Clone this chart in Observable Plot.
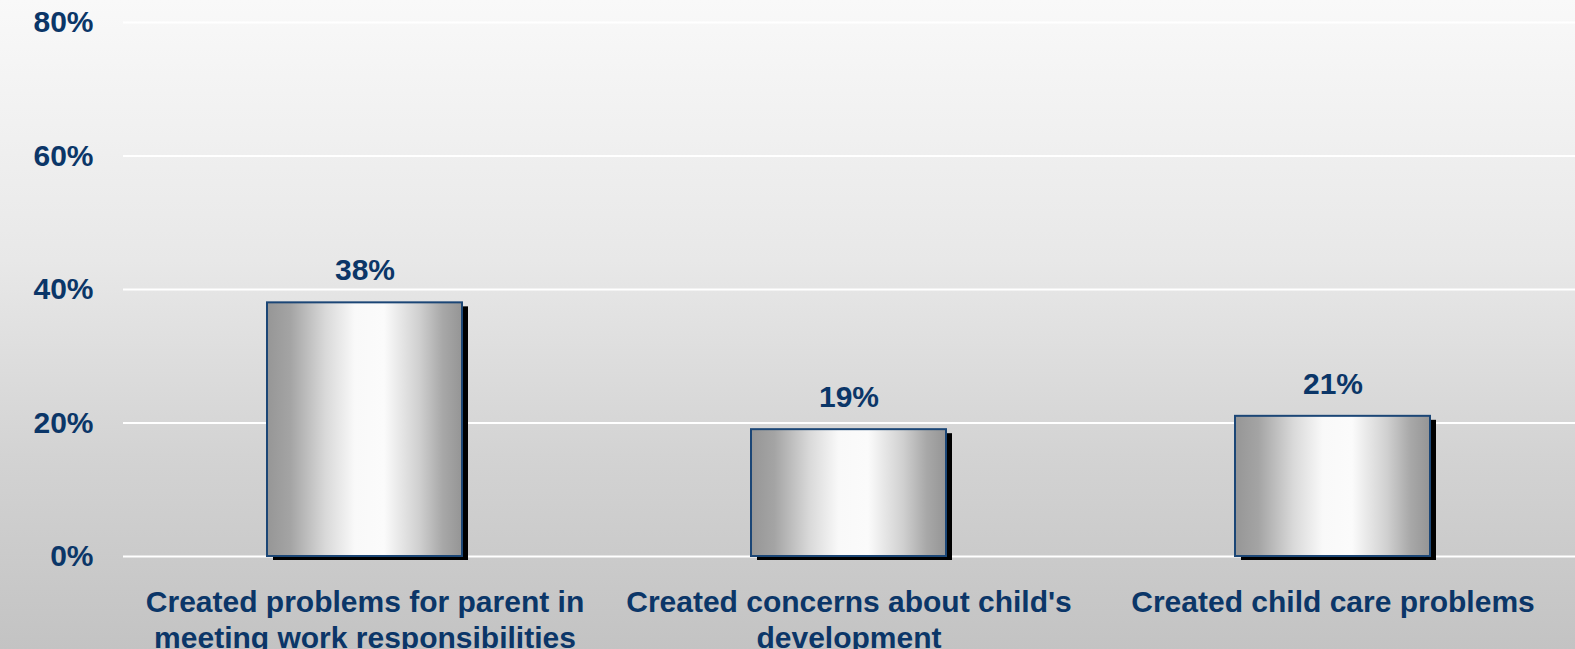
<!DOCTYPE html>
<html>
<head>
<meta charset="utf-8">
<script src="https://cdn.jsdelivr.net/npm/d3@7"></script>
<script src="https://cdn.jsdelivr.net/npm/@observablehq/plot@0.6"></script>
<style>
  html, body { margin: 0; padding: 0; background: #c4c4c4; }
  #chart svg { display: block; }
</style>
</head>
<body>
<div id="chart"></div>
<script>
const categories = [
  "Created problems for parent in\nmeeting work responsibilities",
  "Created concerns about child's\ndevelopment",
  "Created child care problems"
];
const values = [38, 19, 21];
const yTicks = [0, 20, 40, 60, 80];

const data = categories.map((c, i) => ({category: c, value: values[i]}));
const textColor = "#0b3668";
const font = "Liberation Sans, Arial, sans-serif";

const defs = () => {
  const g = d3.create("svg:defs");
  const lg = g.append("linearGradient").attr("id", "barGrad").attr("x1", 0).attr("x2", 1).attr("y1", 0).attr("y2", 0);
  [[0, "#969696"], [0.12, "#a4a4a4"], [0.3, "#d9d9d9"], [0.45, "#f9f9f9"], [0.6, "#fbfbfb"], [0.78, "#d0d0d0"], [0.9, "#a8a8a8"], [1, "#959595"]]
    .forEach(([o, c]) => lg.append("stop").attr("offset", o).attr("stop-color", c));
  return g.node();
};

const chart = Plot.plot({
  width: 1575,
  height: 649,
  marginLeft: 123,
  marginRight: 0,
  marginTop: 22,
  marginBottom: 93,
  style: {
    fontFamily: font,
    background: "linear-gradient(to bottom, #f9f9f9 0%, #e8e8e8 40%, #d3d3d3 70%, #c3c3c3 100%)"
  },
  x: {domain: categories, paddingInner: 0.597, paddingOuter: 0.2985, align: 0.5},
  y: {domain: [0, 80]},
  marks: [
    defs,
    Plot.gridY(yTicks, {stroke: "#ffffff", strokeOpacity: 1, strokeWidth: 2}),
    Plot.axisY(yTicks, {
      tickSize: 0, tickPadding: 30, tickFormat: d => d + "%",
      fontSize: 30, fontWeight: "bold", fill: textColor, label: null
    }),
    Plot.axisX({
      tickSize: 0, tickPadding: 30, lineHeight: 1.2,
      fontSize: 30, fontWeight: "bold", fill: textColor, label: null
    }),
    Plot.barY(data, {x: "category", y: "value", fill: "black", dx: 6, dy: 4}),
    Plot.barY(data, {x: "category", y: "value", fill: "url(#barGrad)", stroke: "#1b4676", strokeWidth: 2}),
    Plot.text(data, {
      x: "category", y: "value", text: d => d.value + "%", dy: -32,
      fontSize: 30, fontWeight: "bold", fill: textColor, lineAnchor: "middle"
    })
  ]
});
document.getElementById("chart").append(chart);
</script>
</body>
</html>
